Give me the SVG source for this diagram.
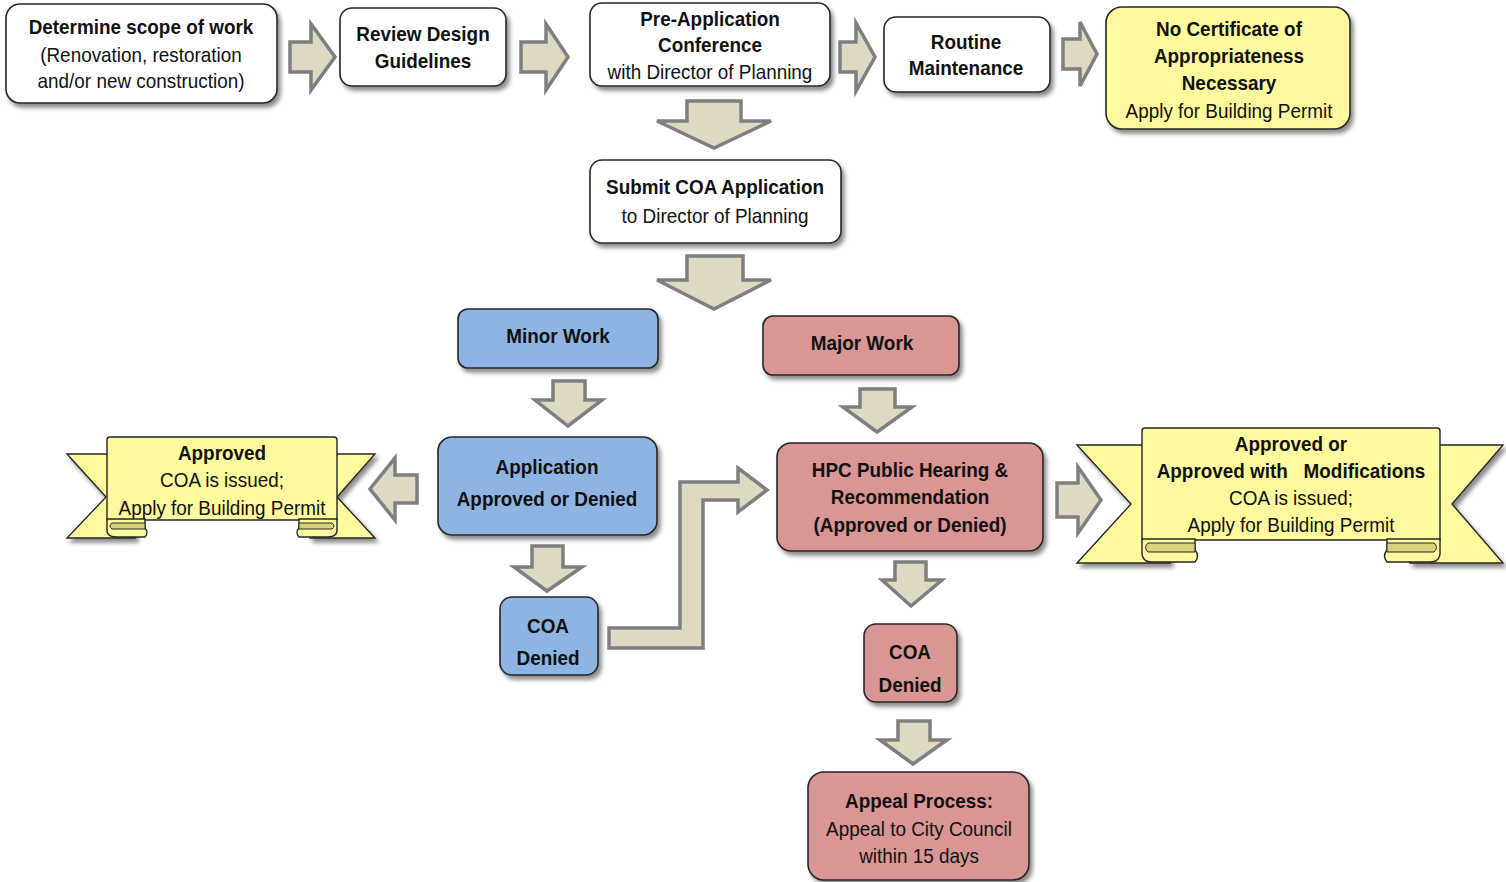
<svg xmlns="http://www.w3.org/2000/svg" width="1506" height="882" viewBox="0 0 1506 882">
<defs>
<filter id="sh" x="-10%" y="-10%" width="130%" height="140%">
<feDropShadow dx="3" dy="4" stdDeviation="2" flood-color="#000" flood-opacity="0.45"/>
</filter>
<style>
.box{stroke:#262626;stroke-width:1.6;filter:url(#sh)}
.w{fill:#fff}.y{fill:#FFFA9E}.b{fill:#8EB4E3}.r{fill:#D99694}
.arr{fill:#DDD9C3;stroke:#7F7F7F;stroke-width:3.5;stroke-linejoin:miter}
.rib{fill:#FFFA9E;stroke:#262626;stroke-width:1.4}
.fold{fill:#D9D27C;stroke:#262626;stroke-width:1}
text{font-family:"Liberation Sans",Arial,sans-serif;fill:#111;text-anchor:middle;font-size:21px}
.bd{font-weight:bold}
</style>
</defs>
<rect width="1506" height="882" fill="#fff"/>

<g id="connectors">
<polygon class="arr" points="290,42 311,42 311,24 335,57 311,90 311,72 290,72"/>
<polygon class="arr" points="521,42 546,42 546,24 568,57 546,90 546,72 521,72"/>
<polygon class="arr" points="840,42 856,42 856,23 875,57 856,91 856,72 840,72"/>
<polygon class="arr" points="1063,39 1080,39 1080,22 1097,54 1080,86 1080,69 1063,69"/>
<polygon class="arr" points="1057,483 1078,483 1078,467 1101,500 1078,533 1078,517 1057,517"/>
<polygon class="arr" points="417,475 395,475 395,458 370,489 395,520 395,503 417,503"/>
<polygon class="arr" points="687,101 741,101 741,121 771,121 714,148 657,121 687,121"/>
<polygon class="arr" points="687,256 743,256 743,280 771,280 714,309 657,280 687,280"/>
<polygon class="arr" points="553,381 585,381 585,400 602,400 568,426 535,400 553,400"/>
<polygon class="arr" points="532,546 563,546 563,567 582,567 547,591 514,567 532,567"/>
<polygon class="arr" points="860,389 895,389 895,407 912,407 877,432 843,407 860,407"/>
<polygon class="arr" points="895,562 926,562 926,580 942,580 911,606 882,580 895,580"/>
<polygon class="arr" points="898,721 930,721 930,740 947,740 913,764 880,740 898,740"/>
<polygon class="arr" points="609,628 680,628 680,482 738,482 738,468 767,490 738,512 738,500 703,500 703,648 609,648"/>
</g>

<g id="n-scope">
<rect class="box w" x="6" y="4" width="271" height="99" rx="14"/>
<text class="bd" transform="translate(141,34) scale(0.9,1)">Determine scope of work</text>
<text transform="translate(141,62) scale(0.9,1)">(Renovation, restoration</text>
<text transform="translate(141,88) scale(0.9,1)">and/or new construction)</text>
</g>
<g id="n-review">
<rect class="box w" x="340" y="8" width="166" height="78" rx="12"/>
<text class="bd" transform="translate(423,41) scale(0.9,1)">Review Design</text>
<text class="bd" transform="translate(423,68) scale(0.9,1)">Guidelines</text>
</g>
<g id="n-preapp">
<rect class="box w" x="590" y="3" width="240" height="83" rx="12"/>
<text class="bd" transform="translate(710,26) scale(0.9,1)">Pre-Application</text>
<text class="bd" transform="translate(710,52) scale(0.9,1)">Conference</text>
<text transform="translate(710,79) scale(0.9,1)">with Director of Planning</text>
</g>
<g id="n-routine">
<rect class="box w" x="884" y="17" width="166" height="75" rx="12"/>
<text class="bd" transform="translate(966,49) scale(0.9,1)">Routine</text>
<text class="bd" transform="translate(966,75) scale(0.9,1)">Maintenance</text>
</g>
<g id="n-nocoa">
<rect class="box y" x="1106" y="7" width="244" height="122" rx="16"/>
<text class="bd" transform="translate(1229,36) scale(0.9,1)">No Certificate of</text>
<text class="bd" transform="translate(1229,63) scale(0.9,1)">Appropriateness</text>
<text class="bd" transform="translate(1229,90) scale(0.9,1)">Necessary</text>
<text transform="translate(1229,118) scale(0.9,1)">Apply for Building Permit</text>
</g>
<g id="n-submit">
<rect class="box w" x="590" y="160" width="251" height="83" rx="12"/>
<text class="bd" transform="translate(715,194) scale(0.9,1)">Submit COA Application</text>
<text transform="translate(715,223) scale(0.9,1)">to Director of Planning</text>
</g>
<g id="n-minor">
<rect class="box b" x="458" y="309" width="200" height="59" rx="10"/>
<text class="bd" transform="translate(558,343) scale(0.9,1)">Minor Work</text>
</g>
<g id="n-major">
<rect class="box r" x="763" y="316" width="196" height="59" rx="10"/>
<text class="bd" transform="translate(862,350) scale(0.9,1)">Major Work</text>
</g>
<g id="n-app">
<rect class="box b" x="438" y="437" width="219" height="98" rx="14"/>
<text class="bd" transform="translate(547,474) scale(0.9,1)">Application</text>
<text class="bd" transform="translate(547,506) scale(0.9,1)">Approved or Denied</text>
</g>
<g id="n-coa-minor">
<rect class="box b" x="500" y="597" width="98" height="78" rx="12"/>
<text class="bd" transform="translate(548,633) scale(0.9,1)">COA</text>
<text class="bd" transform="translate(548,665) scale(0.9,1)">Denied</text>
</g>
<g id="n-hpc">
<rect class="box r" x="777" y="443" width="266" height="108" rx="14"/>
<text class="bd" transform="translate(910,477) scale(0.9,1)">HPC Public Hearing &amp;</text>
<text class="bd" transform="translate(910,504) scale(0.9,1)">Recommendation</text>
<text class="bd" transform="translate(910,532) scale(0.9,1)">(Approved or Denied)</text>
</g>
<g id="n-coa-major">
<rect class="box r" x="864" y="624" width="93" height="78" rx="12"/>
<text class="bd" transform="translate(910,659) scale(0.9,1)">COA</text>
<text class="bd" transform="translate(910,692) scale(0.9,1)">Denied</text>
</g>
<g id="n-appeal">
<rect class="box r" x="808" y="772" width="221" height="108" rx="16"/>
<text class="bd" transform="translate(919,808) scale(0.9,1)">Appeal Process:</text>
<text transform="translate(919,836) scale(0.9,1)">Appeal to City Council</text>
<text transform="translate(919,863) scale(0.9,1)">within 15 days</text>
</g>

<g id="n-approved-left">
<polygon class="rib" points="67,454 135,454 135,538 67,538 106,497" filter="url(#sh)"/>
<polygon class="rib" points="375,454 310,454 310,538 375,538 337,497" filter="url(#sh)"/>
<path class="rib" d="M107,520 L107,440 Q107,437 110,437 L334,437 Q337,437 337,440 L337,520 Z"/>
<path class="rib" d="M107,519 L145,519 L145,528 Q149,532.5 145,537 L116,537 Q106,537 107,528 Z"/>
<path class="fold" d="M112,523 L145,523 L145,529 L112,529 Q108,526 112,523 Z"/>
<path class="rib" d="M337,519 L299,519 L299,528 Q295,532.5 299,537 L328,537 Q338,537 337,528 Z"/>
<path class="fold" d="M332,523 L299,523 L299,529 L332,529 Q336,526 332,523 Z"/>
<text class="bd" transform="translate(222,460) scale(0.9,1)">Approved</text>
<text transform="translate(222,487) scale(0.9,1)">COA is issued;</text>
<text transform="translate(222,515) scale(0.9,1)">Apply for Building Permit</text>
</g>

<g id="n-approved-right">
<polygon class="rib" points="1077,445 1170,445 1170,563 1077,563 1131,504" filter="url(#sh)"/>
<polygon class="rib" points="1503,445 1410,445 1410,563 1503,563 1452,504" filter="url(#sh)"/>
<path class="rib" d="M1142,540 L1142,431 Q1142,428 1145,428 L1437,428 Q1440,428 1440,431 L1440,540 Z"/>
<path class="rib" d="M1142,539 L1195,539 L1195,550 Q1200,556 1195,562 L1152,562 Q1141,562 1142,550 Z"/>
<path class="fold" d="M1148,543 L1195,543 L1195,552 L1148,552 Q1143,547.5 1148,543 Z"/>
<path class="rib" d="M1440,539 L1387,539 L1387,550 Q1382,556 1387,562 L1430,562 Q1441,562 1440,550 Z"/>
<path class="fold" d="M1434,543 L1387,543 L1387,552 L1434,552 Q1439,547.5 1434,543 Z"/>
<text class="bd" transform="translate(1291,451) scale(0.9,1)">Approved or</text>
<text class="bd" transform="translate(1291,478) scale(0.9,1)" xml:space="preserve">Approved with   Modifications</text>
<text transform="translate(1291,505) scale(0.9,1)">COA is issued;</text>
<text transform="translate(1291,532) scale(0.9,1)">Apply for Building Permit</text>
</g>
</svg>
